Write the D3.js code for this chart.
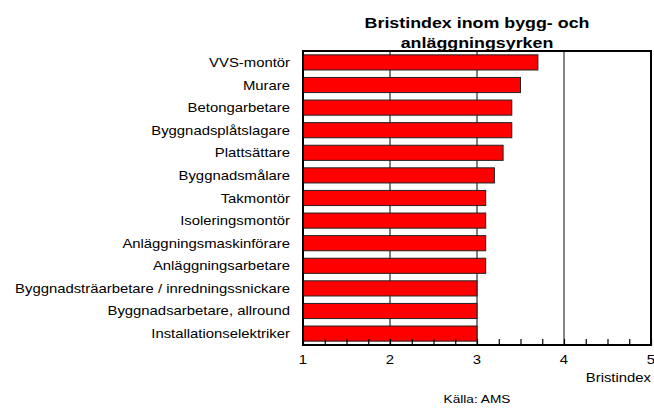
<!DOCTYPE html>
<html>
<head>
<meta charset="utf-8">
<script src="https://cdn.jsdelivr.net/npm/d3@7"></script>
<style>
  body { margin: 0; background: #fff; }
  text { font-family: "Liberation Sans", Arial, sans-serif; }
</style>
</head>
<body>
<div id="chart"></div>
<script>
const categories = [
  "VVS-montör",
  "Murare",
  "Betongarbetare",
  "Byggnadsplåtslagare",
  "Plattsättare",
  "Byggnadsmålare",
  "Takmontör",
  "Isoleringsmontör",
  "Anläggningsmaskinförare",
  "Anläggningsarbetare",
  "Byggnadsträarbetare / inredningssnickare",
  "Byggnadsarbetare, allround",
  "Installationselektriker"
];
const values = [3.7, 3.5, 3.4, 3.4, 3.3, 3.2, 3.1, 3.1, 3.1, 3.1, 3.0, 3.0, 3.0];
const xTicks = [1, 2, 3, 4, 5];

const width = 654;
const height = 416;
const plotLeft = 303, plotRight = 651, plotTop = 51, plotBottom = 345;
const stretch = 1.19; // text in the original is drawn wider than normal

const svg = d3.select("#chart")
  .append("svg")
  .attr("width", width)
  .attr("height", height);

function label(xPos, yPos, txt, size, anchor, bold) {
  return svg.append("text")
    .attr("transform", `translate(${xPos},${yPos}) scale(${stretch},1)`)
    .attr("text-anchor", anchor)
    .attr("font-size", size)
    .attr("font-weight", bold ? "bold" : "normal")
    .attr("fill", "#000")
    .text(txt);
}

const x = d3.scaleLinear().domain([1, 5]).range([plotLeft, plotRight]);
const y = d3.scaleBand().domain(categories).range([plotTop, plotBottom]).paddingInner(0.33).paddingOuter(0.17);

// gridlines
svg.selectAll(".grid")
  .data([2, 3, 4])
  .enter()
  .append("line")
  .attr("x1", (d) => x(d))
  .attr("x2", (d) => x(d))
  .attr("y1", plotTop)
  .attr("y2", plotBottom)
  .attr("stroke", (d) => d === 4 ? "#333" : "#000")
  .attr("stroke-width", (d) => d === 4 ? 1.2 : 1);

// bars
svg.selectAll(".bar")
  .data(values)
  .enter()
  .append("rect")
  .attr("x", x(1))
  .attr("y", (d, i) => y(categories[i]))
  .attr("width", (d) => x(d) - x(1))
  .attr("height", y.bandwidth())
  .attr("fill", "#ff0000")
  .attr("stroke", "#222")
  .attr("stroke-width", 1);

// bottom axis with inward ticks
const xAxis = d3.axisBottom(x)
  .tickValues(d3.range(1, 5.01, 0.25))
  .tickSizeInner(-6)
  .tickSizeOuter(0)
  .tickFormat("");

svg.append("g")
  .attr("transform", `translate(0, ${plotBottom})`)
  .call(xAxis)
  .call((g) => g.select(".domain").remove())
  .selectAll("line")
  .attr("stroke", "#000")
  .attr("stroke-width", 1.2);

xTicks.forEach((t) => label(x(t), 364, t, 12.5, "middle"));

// plot border
svg.append("rect")
  .attr("x", plotLeft)
  .attr("y", plotTop)
  .attr("width", plotRight - plotLeft)
  .attr("height", plotBottom - plotTop)
  .attr("fill", "none")
  .attr("stroke", "#000")
  .attr("stroke-width", 2);

// category labels
categories.forEach((c) => label(290, y(c) + y.bandwidth() / 2 + 4.5, c, 12.5, "end"));

// title
label(477, 28, "Bristindex inom bygg- och", 15, "middle", true);
label(477, 48, "anläggningsyrken", 15, "middle", true);

label(651, 382, "Bristindex", 12.5, "end");
label(477, 403, "Källa: AMS", 11.5, "middle");
</script>
</body>
</html>
